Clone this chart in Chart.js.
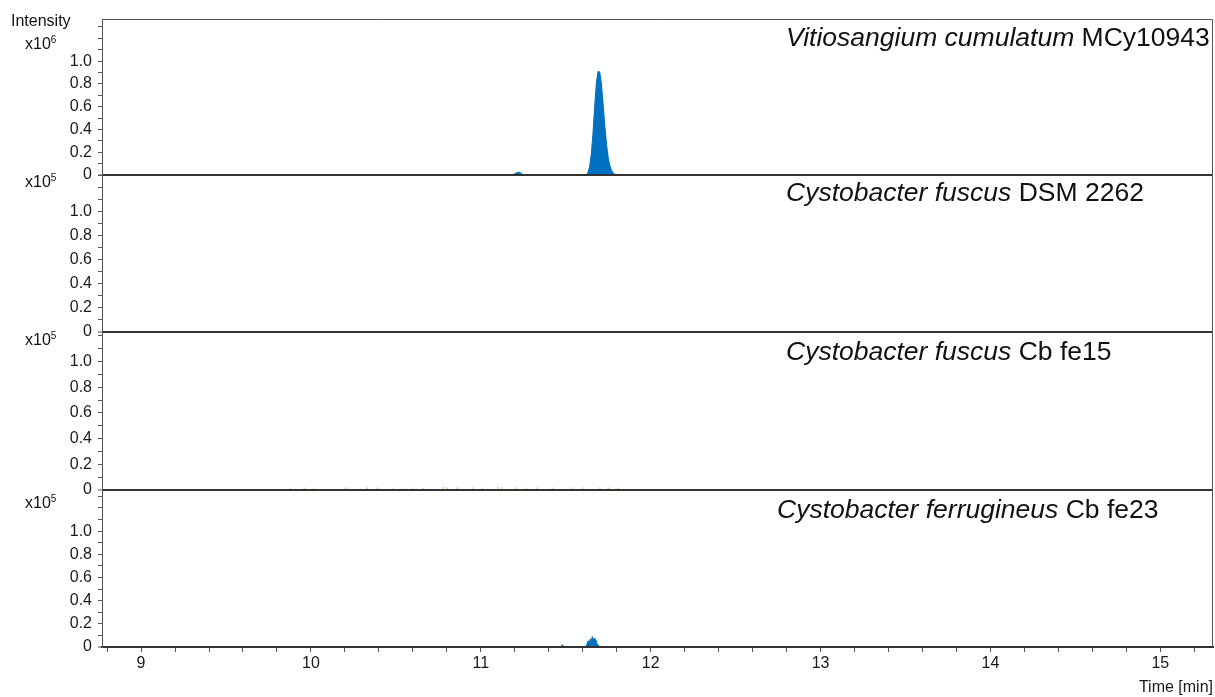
<!DOCTYPE html>
<html>
<head>
<meta charset="utf-8">
<script src="https://cdn.jsdelivr.net/npm/chart.js@4.4.1/dist/chart.umd.min.js"></script>
<style>
  body { margin: 0; background: #fff; font-family: Arial, "Liberation Sans", sans-serif; }
  #wrap { position: relative; width: 1215px; height: 697px; }
  #chart { position: absolute; left: 0; top: 0; }
  .lbl { position: absolute; font-size: 16px; line-height: 18px; color: #111; white-space: nowrap; }
  .lbl sup { font-size: 10px; vertical-align: 6px; line-height: 0; }
  .title { position: absolute; font-size: 26.5px; line-height: 28px; color: #111; white-space: nowrap; }
</style>
</head>
<body>
<div id="wrap">
  <canvas id="chart" width="1215" height="697"></canvas>
  <div class="lbl" style="left:11px;top:12px">Intensity</div>
  <div class="lbl" style="left:25px;top:35px">x10<sup>6</sup></div>
  <div class="lbl" style="left:25px;top:173px">x10<sup>5</sup></div>
  <div class="lbl" style="left:25px;top:331px">x10<sup>5</sup></div>
  <div class="lbl" style="left:25px;top:494px">x10<sup>5</sup></div>
  <div class="title" style="left:786px;top:23px"><i>Vitiosangium cumulatum</i> MCy10943</div>
  <div class="title" style="left:786px;top:178px"><i>Cystobacter fuscus</i> DSM 2262</div>
  <div class="title" style="left:786px;top:337px"><i>Cystobacter fuscus</i> Cb fe15</div>
  <div class="title" style="left:777px;top:495px"><i>Cystobacter ferrugineus</i> Cb fe23</div>
</div>
<script>
// x axis ticks (minutes)
const xTickValues = [8.8, 9.0, 9.2, 9.4, 9.6, 9.8, 10.0, 10.2, 10.4, 10.6, 10.8, 11.0, 11.2, 11.4, 11.6, 11.8,
    12.0, 12.2, 12.4, 12.6, 12.8, 13.0, 13.2, 13.4, 13.6, 13.8, 14.0, 14.2, 14.4, 14.6, 14.8, 15.0, 15.2];
const xTickLabels = ["", "9", "", "", "", "", "10", "", "", "", "", "11", "", "", "", "",
    "12", "", "", "", "", "13", "", "", "", "", "14", "", "", "", "", "15", ""];

// y axis ticks, same for every panel
const yTickValues = [0, 0.1, 0.2, 0.3, 0.4, 0.5, 0.6, 0.7, 0.8, 0.9, 1.0, 1.1, 1.2, 1.3];
const yTickLabels = ["0", "", "0.2", "", "0.4", "", "0.6", "", "0.8", "", "1.0", "", "", ""];

// Vitiosangium cumulatum MCy10943 (x10^6)
const panel1Times = [8.77, 11.18, 11.20, 11.21, 11.22, 11.23, 11.24, 11.26,
    11.62, 11.63, 11.64, 11.65, 11.66, 11.67, 11.68, 11.69, 11.70, 11.71, 11.72, 11.73,
    11.74, 11.75, 11.76, 11.77, 11.78, 11.79, 11.80, 15.31];
const panel1Values = [0, 0, 0.01, 0.02, 0.025, 0.022, 0.01, 0,
    0, 0.02, 0.07, 0.18, 0.36, 0.60, 0.81, 0.91, 0.905, 0.80, 0.62, 0.43,
    0.27, 0.15, 0.08, 0.04, 0.015, 0.005, 0, 0];

// Cystobacter fuscus DSM 2262 (x10^5) - flat
const panel2Times = [8.77, 15.31];
const panel2Values = [0, 0];

// Cystobacter fuscus Cb fe15 (x10^5) - baseline specks
const panel3Times = [8.77,
    9.876, 9.88, 9.884, 9.956, 9.96, 9.964, 10.016, 10.02, 10.024, 10.196, 10.20, 10.204,
    10.216, 10.22, 10.224, 10.326, 10.33, 10.334, 10.386, 10.39, 10.394, 10.476, 10.48, 10.484,
    10.536, 10.54, 10.544, 10.596, 10.60, 10.604, 10.656, 10.66, 10.664, 10.776, 10.78, 10.784,
    10.796, 10.80, 10.804, 10.856, 10.86, 10.864, 10.946, 10.95, 10.954, 11.006, 11.01, 11.014,
    11.096, 11.10, 11.104, 11.116, 11.12, 11.124, 11.206, 11.21, 11.214, 11.266, 11.27, 11.274,
    11.326, 11.33, 11.334, 11.416, 11.42, 11.424, 11.526, 11.53, 11.534, 11.596, 11.60, 11.604,
    11.696, 11.70, 11.704, 11.746, 11.75, 11.754, 11.806, 11.81, 11.814,
    15.31];
const panel3Values = [0,
    0, 0.018, 0, 0, 0.018, 0, 0, 0.016, 0, 0, 0.02, 0,
    0, 0.022, 0, 0, 0.02, 0, 0, 0.018, 0, 0, 0.018, 0,
    0, 0.016, 0, 0, 0.018, 0, 0, 0.016, 0, 0, 0.028, 0,
    0, 0.022, 0, 0, 0.02, 0, 0, 0.022, 0, 0, 0.018, 0,
    0, 0.028, 0, 0, 0.02, 0, 0, 0.022, 0, 0, 0.018, 0,
    0, 0.02, 0, 0, 0.018, 0, 0, 0.022, 0, 0, 0.02, 0,
    0, 0.02, 0, 0, 0.018, 0, 0, 0.018, 0,
    0];

// Cystobacter ferrugineus Cb fe23 (x10^5)
const panel4Times = [8.77, 11.47, 11.48, 11.49, 11.615, 11.625, 11.632, 11.638, 11.645, 11.650,
    11.656, 11.662, 11.667, 11.672, 11.678, 11.684, 11.692, 11.702, 15.31];
const panel4Values = [0, 0, 0.02, 0, 0, 0.025, 0.055, 0.035, 0.07, 0.045,
    0.09, 0.055, 0.075, 0.04, 0.06, 0.025, 0.015, 0, 0];

const blue = "#0070c0";
const green = "#d3e09a";
const fontFamily = 'Arial, "Liberation Sans", sans-serif';

function toPoints(times, values) {
    return times.map((t, i) => ({ x: t, y: values[i] }));
}

// one stacked y axis per panel
function panelAxis(max, weight) {
    return {
        type: "linear",
        position: "left",
        stack: "panels",
        stackWeight: weight,
        min: 0,
        max: max,
        afterBuildTicks: (scale) => {
            scale.ticks = yTickValues.filter(v => v <= max + 1e-9).map(v => ({ value: v }));
        },
        afterFit: (scale) => { scale.width = 102; },
        ticks: {
            autoSkip: false,
            padding: 6,
            color: "#1a1a1a",
            font: { size: 16, family: fontFamily },
            callback: (value, index) => yTickLabels[index]
        },
        grid: {
            z: 1, // zero line drawn over the traces
            drawOnChartArea: true,
            color: (ctx) => (ctx.tick && ctx.tick.value === 0 ? "#333" : "rgba(0,0,0,0)"),
            lineWidth: (ctx) => (ctx.tick && ctx.tick.value === 0 ? 2 : 1),
            tickColor: "#555",
            tickWidth: 1,
            tickLength: 4
        },
        border: { display: true, color: "#555", width: 1, z: 1 }
    };
}

// top and right edge of the plot box
const framePlugin = {
    id: "frame",
    afterDraw(chart) {
        const { ctx, chartArea } = chart;
        ctx.save();
        ctx.strokeStyle = "#555";
        ctx.lineWidth = 1;
        ctx.beginPath();
        ctx.moveTo(chartArea.left, chartArea.top + 0.5);
        ctx.lineTo(chartArea.right - 0.5, chartArea.top + 0.5);
        ctx.lineTo(chartArea.right - 0.5, chartArea.bottom);
        ctx.stroke();
        ctx.restore();
    }
};

function traceDataset(times, values, color, axis) {
    return {
        data: toPoints(times, values),
        yAxisID: axis,
        borderColor: color,
        backgroundColor: color,
        borderWidth: 1,
        fill: "origin",
        pointRadius: 0,
        tension: 0
    };
}

new Chart(document.getElementById("chart"), {
    type: "line",
    data: {
        datasets: [
            traceDataset(panel1Times, panel1Values, blue, "yA"),
            traceDataset(panel2Times, panel2Values, blue, "yB"),
            traceDataset(panel3Times, panel3Values, green, "yC"),
            traceDataset(panel4Times, panel4Values, blue, "yD")
        ]
    },
    options: {
        responsive: false,
        animation: false,
        layout: { padding: { top: 19, right: 2, left: 0, bottom: 0 } },
        plugins: { legend: { display: false }, tooltip: { enabled: false } },
        scales: {
            x: {
                type: "linear",
                min: 8.77,
                max: 15.31,
                afterBuildTicks: (scale) => { scale.ticks = xTickValues.map(v => ({ value: v })); },
                afterFit: (scale) => { scale.height = 50; },
                ticks: {
                    autoSkip: false,
                    maxRotation: 0,
                    padding: 2,
                    color: "#1a1a1a",
                    font: { size: 16, family: fontFamily },
                    callback: (value, index) => xTickLabels[index]
                },
                grid: { drawOnChartArea: false, tickLength: 5, tickColor: "#555", color: "#555", z: 1 },
                border: { display: true, color: "#333", width: 2, z: 1 },
                title: {
                    display: true,
                    text: "Time [min]",
                    align: "end",
                    color: "#1a1a1a",
                    font: { size: 16, family: fontFamily },
                    padding: { top: 6, bottom: 0 }
                }
            },
            // bottom panel first: Chart.js places the last stacked axis on top
            yD: panelAxis(1.355, 157),
            yC: panelAxis(1.23, 158),
            yB: panelAxis(1.30, 157),
            yA: panelAxis(1.37, 156)
        }
    },
    plugins: [framePlugin]
});
</script>
</body>
</html>
